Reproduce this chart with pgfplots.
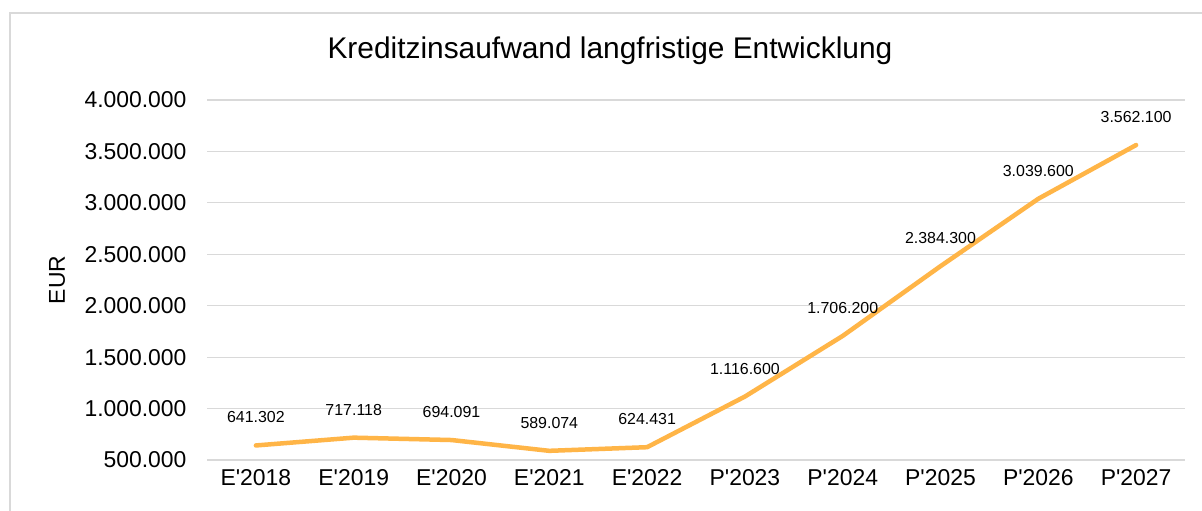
\documentclass[border=0pt]{standalone}
\usepackage{fontspec}
\setmainfont{Liberation Sans}
\usepackage{pgfplots}
\pgfplotsset{compat=1.18}
\usepackage{pgfplotstable}
\definecolor{lineorange}{HTML}{FFB547}
\definecolor{gridgray}{HTML}{D9D9D9}
\pgfplotstableread{
x y label
0 641302 641.302
1 717118 717.118
2 694091 694.091
3 589074 589.074
4 624431 624.431
5 1116600 1.116.600
6 1706200 1.706.200
7 2384300 2.384.300
8 3039600 3.039.600
9 3562100 3.562.100
}\kreditdata
\begin{document}
\begin{tikzpicture}[x=1bp,y=1bp]
\useasboundingbox (0,0) rectangle (1202,511);
\fill[white] (0,0) rectangle (1202,511);
\draw[gridgray, line width=1.5bp] (10,0) -- (10,498) -- (1202,498);
\begin{axis}[
  at={(207bp,51bp)}, anchor=south west,
  scale only axis, width=978bp, height=360bp,
  xmin=-0.5, xmax=9.5, ymin=500000, ymax=4000000,
  xtick={0,...,9},
  xticklabels={E\textquotesingle2018,E\textquotesingle2019,E\textquotesingle2020,E\textquotesingle2021,E\textquotesingle2022,P\textquotesingle2023,P\textquotesingle2024,P\textquotesingle2025,P\textquotesingle2026,P\textquotesingle2027},
  ytick={500000,1000000,1500000,2000000,2500000,3000000,3500000,4000000},
  scaled y ticks=false,
  yticklabel style={/pgf/number format/fixed, /pgf/number format/precision=0, /pgf/number format/1000 sep={.}, /pgf/number format/assume math mode=true, xshift=-17bp},
  tick label style={font=\fontsize{23}{26}\selectfont},
  xticklabel style={yshift=-6bp},
  major tick length=0pt,
  axis line style={draw=none},
  ymajorgrids, grid style={gridgray, line width=1.2bp},
  clip=false,
  title={Kreditzinsaufwand langfristige Entwicklung},
  title style={at={(axis description cs:0.412,1)}, anchor=center, yshift=43bp, font=\fontsize{30}{34}\selectfont},
  every axis y label/.style={at={(axis description cs:0,0.5)}, rotate=90, anchor=center, yshift=150bp, font=\fontsize{23}{26}\selectfont},
  ylabel={EUR},
  nodes near coords,
  point meta=explicit symbolic,
  every node near coord/.append style={anchor=center, yshift=28bp, font=\fontsize{16}{19}\selectfont, text=black},
]
\addplot[color=lineorange, line width=4.5bp, line cap=round, line join=round, mark=none]
  table[x=x, y=y, meta=label] {\kreditdata};
\end{axis}
\end{tikzpicture}
\end{document}
